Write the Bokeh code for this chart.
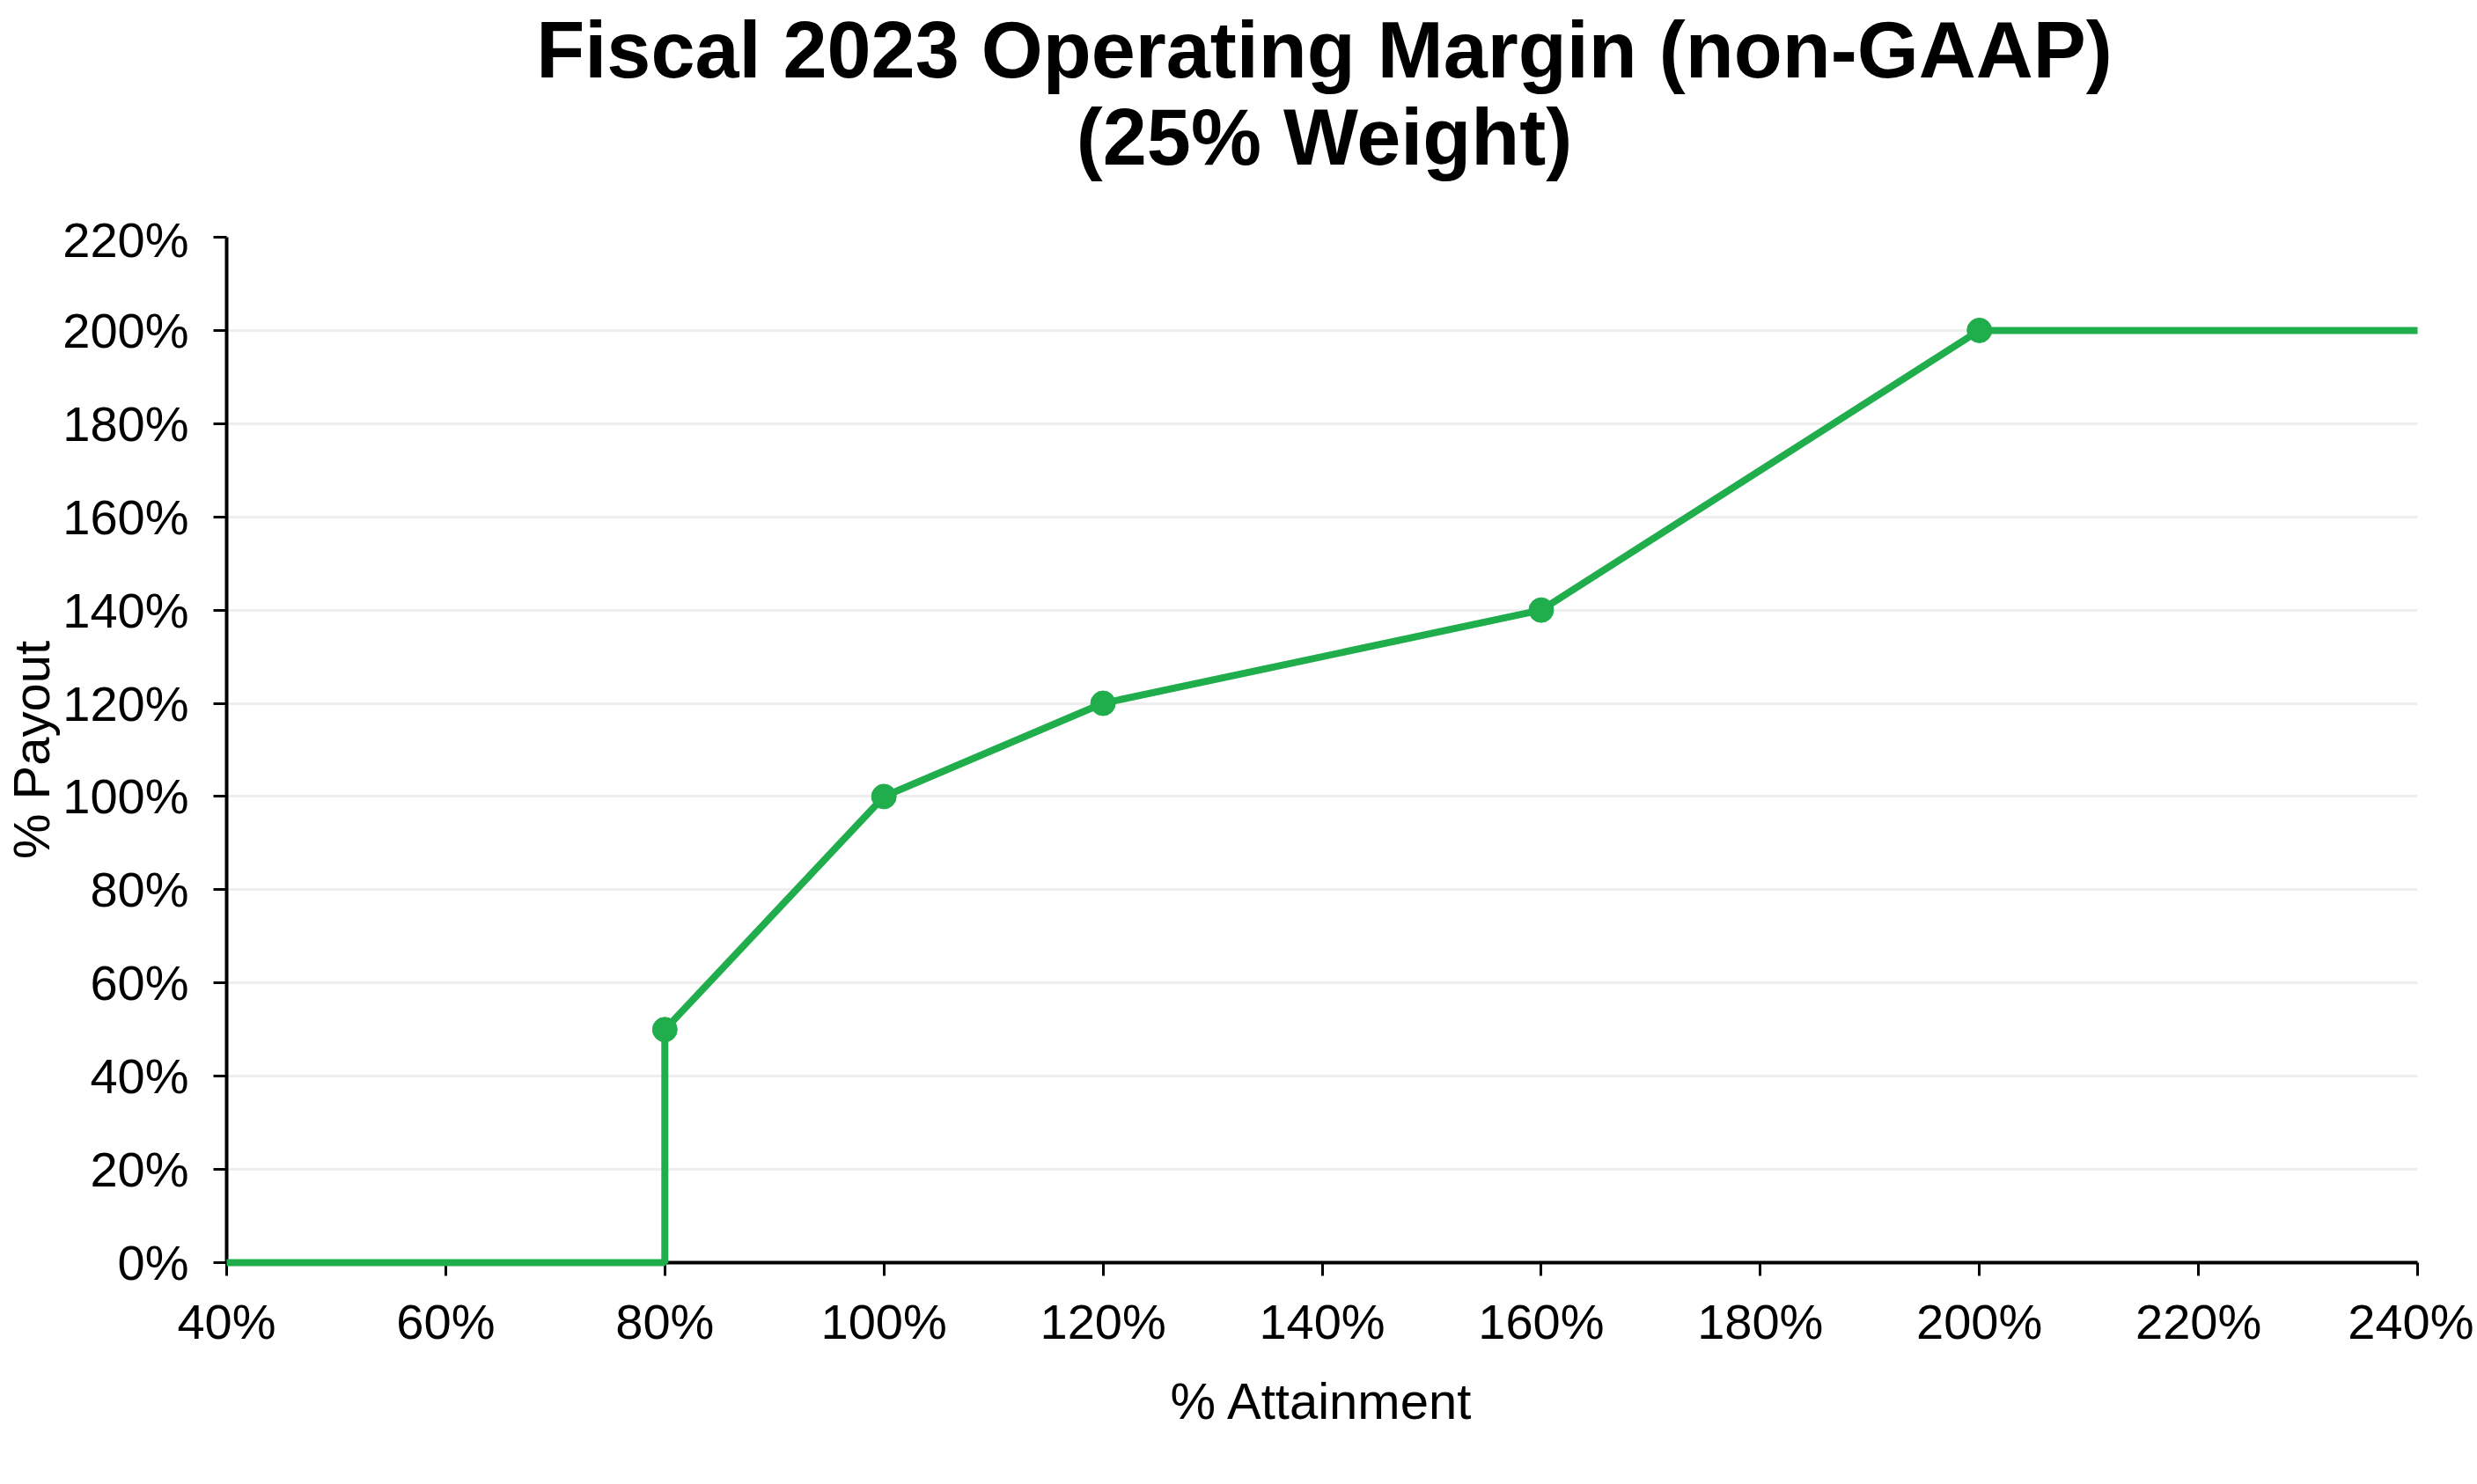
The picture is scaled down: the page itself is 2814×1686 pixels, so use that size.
from bokeh.plotting import figure
from bokeh.layouts import column
from bokeh.models import Label, PrintfTickFormatter, FixedTicker, Range1d
from bokeh.embed import file_html
from bokeh.resources import INLINE

# ---- data ----
attainment = [40, 80, 80, 100, 120, 160, 200, 240]
payout = [0, 0, 50, 100, 120, 140, 200, 200]
marker_attainment = [80, 100, 120, 160, 200]
marker_payout = [50, 100, 120, 140, 200]
x_ticks = [40, 60, 80, 100, 120, 140, 160, 180, 200, 220, 240]
y_ticks = [0, 20, 40, 60, 80, 100, 120, 140, 160, 180, 200, 220]
title_line1 = "Fiscal 2023 Operating Margin (non-GAAP)"
title_line2 = "(25% Weight)"
x_label = "% Attainment"
y_label = "% Payout"

GREEN = "#20ad4c"
FONT = "Liberation Sans"
W = 2810
HEAD_H = 240
BORDER_L = 255
BORDER_R = 64

# ---- title header: frame aligned with the chart's frame, y in pixels ----
head = figure(width=W, height=HEAD_H, output_backend="svg", toolbar_location=None,
              x_range=Range1d(40, 240), y_range=Range1d(0, HEAD_H),
              x_axis_location=None, y_axis_location=None, title_location=None,
              min_border_left=BORDER_L, min_border_right=BORDER_R,
              min_border_top=0, min_border_bottom=0,
              background_fill_color="white", border_fill_color="white")
head.outline_line_color = None
head.grid.visible = False
for txt, yy in ((title_line1, HEAD_H - 56), (title_line2, HEAD_H - 155)):
    head.add_layout(Label(x=140.2, y=yy, text=txt, text_align="center",
                          text_baseline="alphabetic", text_font=FONT,
                          text_font_size="90px", text_font_style="bold",
                          text_color="black"))

# ---- main chart ----
p = figure(width=W, height=1682 - HEAD_H, output_backend="svg", toolbar_location=None,
           x_range=Range1d(40, 240), y_range=Range1d(0, 220), title_location=None,
           min_border_left=BORDER_L, min_border_right=BORDER_R, min_border_bottom=248,
           min_border_top=29, background_fill_color="white",
           border_fill_color="white")
p.outline_line_color = None
p.xgrid.visible = False
p.ygrid.grid_line_color = "#eeeeee"
p.ygrid.grid_line_width = 3

p.xaxis.ticker = FixedTicker(ticks=x_ticks)
p.yaxis.ticker = FixedTicker(ticks=y_ticks)
for ax in (p.xaxis[0], p.yaxis[0]):
    ax.formatter = PrintfTickFormatter(format="%d%%")
    ax.axis_line_color = "black"
    ax.axis_line_width = 4
    ax.major_tick_line_color = "black"
    ax.major_tick_line_width = 3
    ax.major_tick_out = 15
    ax.major_tick_in = 0
    ax.minor_tick_line_color = None
    ax.major_label_text_font = FONT
    ax.major_label_text_font_size = "56px"
    ax.major_label_text_color = "black"
    ax.axis_label_text_font = FONT
    ax.axis_label_text_font_size = "58px"
    ax.axis_label_text_font_style = "normal"
    ax.axis_label_text_color = "black"
p.xaxis.axis_label = x_label
p.yaxis.axis_label = y_label
p.xaxis.major_label_standoff = 20
p.yaxis.major_label_standoff = 28
p.xaxis.axis_label_standoff = 23
p.yaxis.axis_label_standoff = 0

p.line(attainment, payout, line_width=8, line_color=GREEN, level="overlay")
p.scatter(marker_attainment, marker_payout, size=28, fill_color=GREEN,
          line_color=GREEN, level="overlay")

layout = column(head, p, spacing=0)
open("out.html", "w").write(file_html(layout, INLINE))
